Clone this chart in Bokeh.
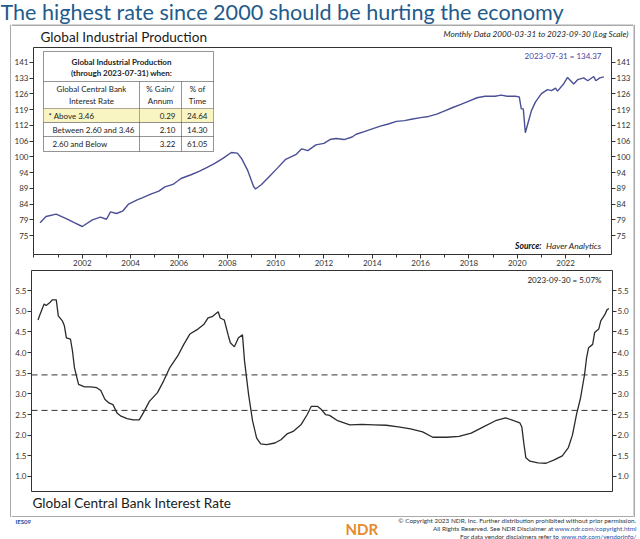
from bokeh.plotting import figure
from bokeh.models import (ColumnDataSource, FixedTicker, LogAxis, LinearAxis, Range1d,
                          Label, BoxAnnotation, Span, NumeralTickFormatter)
from bokeh.layouts import column, row
from bokeh.embed import file_html
from bokeh.resources import INLINE

# ---------------- data ----------------
ip_dates = ["2000-03","2000-06","2000-11","2001-04","2001-08","2001-12","2002-05","2002-09","2002-12",
            "2003-02","2003-05","2003-08","2003-11","2004-03","2004-06","2004-10","2005-02","2005-05",
            "2005-09","2006-01","2006-06","2006-10","2007-02","2007-06","2007-10","2008-02","2008-05",
            "2008-07","2008-10","2009-01","2009-02","2009-05","2009-09","2010-01","2010-05","2010-10",
            "2011-01","2011-04","2011-08","2011-12","2012-03","2012-06","2012-10","2013-02","2013-04",
            "2013-08","2013-12","2014-04","2014-08","2014-12","2015-04","2015-08","2015-12","2016-04",
            "2016-08","2016-12","2017-04","2017-08","2017-12","2018-04","2018-08","2019-01","2019-04",
            "2019-07","2019-11","2020-01","2020-02","2020-03","2020-04","2020-05","2020-07","2020-09",
            "2020-12","2021-03","2021-05","2021-07","2021-08","2021-11","2022-01","2022-04","2022-06",
            "2022-09","2022-11","2023-02","2023-03","2023-05","2023-07"]
ip_values = [78.4,80.2,80.9,79.6,78.4,77.3,79.2,80.0,79.4,
             81.6,81.1,81.8,84.0,85.2,86.0,87.1,88.1,89.5,
             90.3,92.3,93.6,94.8,96.2,97.7,99.5,101.6,101.4,
             99.5,95.3,89.7,88.8,90.3,93.1,96.0,99.1,100.8,
             103.0,102.3,104.5,105.1,106.6,107.0,106.6,107.6,108.7,
             109.8,110.9,112.0,112.9,114.0,114.3,115.0,115.6,116.1,
             117.1,118.5,120.0,121.4,122.9,124.4,125.1,125.1,125.6,
             125.1,125.1,124.8,119.4,119.4,109.3,112.3,118.5,122.4,
             126.3,128.2,127.7,128.9,127.5,130.9,134.1,130.9,133.0,
             133.9,132.5,134.6,132.5,133.9,134.37]

rate_dates = ["2000-03","2000-04","2000-06","2000-07","2000-09","2000-10","2000-12","2001-01","2001-03",
              "2001-04","2001-05","2001-07","2001-08","2001-09","2001-11","2002-02","2002-05","2002-08",
              "2002-10","2002-12","2003-02","2003-04","2003-06","2003-08","2003-11","2004-02","2004-05",
              "2004-07","2004-10","2005-02","2005-05","2005-08","2005-12","2006-03","2006-06","2006-10",
              "2007-01","2007-03","2007-05","2007-08","2007-09","2007-11","2008-01","2008-02","2008-04",
              "2008-06","2008-08","2008-09","2008-11","2009-01","2009-03","2009-05","2009-08","2009-12",
              "2010-03","2010-06","2010-09","2011-01","2011-04","2011-06","2011-09","2011-11","2012-01",
              "2012-03","2012-07","2013-01","2013-07","2014-01","2014-07","2015-01","2015-07","2016-01",
              "2016-06","2017-01","2017-07","2018-01","2018-07","2019-01","2019-06","2019-10","2020-01",
              "2020-02","2020-03","2020-04","2020-06","2020-10","2021-02","2021-06","2021-10","2022-01",
              "2022-03","2022-05","2022-07","2022-09","2022-10","2022-11","2023-01","2023-02","2023-04",
              "2023-05","2023-07","2023-08","2023-09"]
rate_values = [4.79,4.93,5.18,5.14,5.22,5.28,5.28,4.89,4.77,
               4.65,4.36,4.33,4.04,3.63,3.23,3.17,3.17,3.15,
               3.08,2.87,2.78,2.74,2.54,2.46,2.40,2.37,2.37,
               2.54,2.82,3.03,3.31,3.63,3.92,4.20,4.45,4.57,
               4.69,4.84,4.87,4.99,4.84,4.79,4.41,4.24,4.14,
               4.36,4.43,3.80,2.99,2.34,1.93,1.79,1.77,1.81,
               1.89,2.03,2.09,2.26,2.50,2.70,2.70,2.62,2.50,
               2.48,2.35,2.25,2.26,2.25,2.24,2.20,2.15,2.08,
               1.95,1.95,1.97,2.05,2.20,2.35,2.42,2.35,2.30,
               2.20,1.80,1.45,1.37,1.33,1.32,1.40,1.50,1.70,
               2.00,2.50,2.90,3.47,3.88,4.12,4.20,4.49,4.57,
               4.77,4.92,5.03,5.07]

rate_thresholds = [3.46, 2.60]

ip_ticks = [74.73, 79.21, 83.96, 89.0, 94.34, 100, 106, 112.36, 119.1, 126.25, 133.82, 141.85]
ip_tick_labels = ["75", "79", "84", "89", "94", "100", "106", "112", "119", "126", "133", "141"]
rate_ticks = [1.0, 1.5, 2.0, 2.5, 3.0, 3.5, 4.0, 4.5, 5.0, 5.5]
year_ticks = [2002, 2004, 2006, 2008, 2010, 2012, 2014, 2016, 2018, 2020, 2022]
year_minor_ticks = list(range(2000, 2024))

table_bands = ["* Above 3.46", "Between 2.60 and 3.46", "2.60 and Below"]
table_gain = ["0.29", "2.10", "3.22"]
table_time = ["24.64", "14.30", "61.05"]

last_ip_text = "2023-07-31 = 134.37"
last_rate_text = "2023-09-30 = 5.07%"

FONT = "Lato"
DARK = "#333333"
FRAME = "#555555"


def to_year(d):
    y, m = d.split("-")
    return int(y) + int(m) / 12.0


def style_axis(ax, ticks, minor=None):
    ax.ticker = FixedTicker(ticks=ticks, minor_ticks=minor or [])
    ax.axis_line_color = None
    ax.major_tick_in = 0
    ax.major_tick_out = 4
    ax.minor_tick_in = 0
    ax.minor_tick_out = 3
    ax.major_tick_line_color = DARK
    ax.minor_tick_line_color = DARK
    ax.major_label_text_font = FONT
    ax.major_label_text_font_size = "8px"
    ax.major_label_text_color = DARK
    ax.major_label_standoff = 1


def lab(p, x, y, text, size="8px", align="left", color="#222222", style="normal", units="data"):
    p.add_layout(Label(x=x, y=y, x_units=units, y_units=units, text=text,
                       text_font=FONT, text_font_size=size, text_align=align,
                       text_baseline="middle", text_color=color, text_font_style=style))


def cbox(p, l, r, t, b, fill=None, line=DARK, width=1):
    p.add_layout(BoxAnnotation(left=l, right=r, top=t, bottom=b,
                               left_units="canvas", right_units="canvas",
                               top_units="canvas", bottom_units="canvas",
                               fill_color=fill if fill else "white",
                               fill_alpha=1 if fill else 0,
                               line_color=line, line_width=width))


def blank_fig(w, h):
    f = figure(width=w, height=h, x_range=Range1d(0, w), y_range=Range1d(h, 0),
               x_axis_location=None, y_axis_location=None, output_backend="svg",
               toolbar_location=None, min_border=0, frame_align=False)
    f.xgrid.grid_line_color = None
    f.ygrid.grid_line_color = None
    f.outline_line_color = None
    f.background_fill_color = "white"
    f.border_fill_color = "white"
    return f


X_RANGE = (1999.98, 2023.9)
INNER_W = 622          # inner (framed) width, global x 11..632
OX = 11                # global x of inner column

# ---------------- title strip (global y 0..23) ----------------
title_fig = blank_fig(640, 24)
lab(title_fig, 0, 11.5, "The highest rate since 2000 should be hurting the economy",
    size="21.6px", color="#1f5b8c")

# ---------------- sub-title strip (global y 24..45) ----------------
sub_fig = blank_fig(INNER_W, 22)
sub_fig.add_layout(Span(location=0.5, dimension="width", line_color=FRAME, line_width=1))
lab(sub_fig, 40 - OX, 12, "Global Industrial Production", size="13.6px", color="#1a1a1a")
lab(sub_fig, 628 - OX, 9, "Monthly Data 2000-03-31 to 2023-09-30 (Log Scale)", size="8.2px",
    align="right", style="italic")

# ---------------- top panel (global y 46..268) ----------------
TY = 46
top = figure(width=INNER_W, height=223, y_axis_type="log",
             x_range=Range1d(*X_RANGE), y_range=Range1d(69.7, 149.8),
             output_backend="svg", toolbar_location=None, frame_align=False,
             min_border_left=20, min_border_right=21, min_border_top=1, min_border_bottom=15)
top.xgrid.grid_line_color = None
top.ygrid.grid_line_color = None
top.outline_line_color = DARK
top.outline_line_width = 1
top.background_fill_color = "white"
top.border_fill_color = "white"

style_axis(top.yaxis[0], ip_ticks)
top.yaxis[0].major_label_overrides = dict(zip(ip_ticks, ip_tick_labels))
right_ip = LogAxis()
style_axis(right_ip, ip_ticks)
right_ip.major_label_overrides = dict(zip(ip_ticks, ip_tick_labels))
top.add_layout(right_ip, "right")
style_axis(top.xaxis[0], year_ticks, year_minor_ticks)

ip_src = ColumnDataSource(dict(x=[to_year(d) for d in ip_dates], y=ip_values))
top.line("x", "y", source=ip_src, line_color="#4b4f96", line_width=1.4)

lab(top, 601 - OX, 55 - TY, last_ip_text, size="8px", align="right", color="#4a3f9f", units="canvas")
lab(top, 541 - OX, 245 - TY, "Source:", size="8.5px", align="right", style="bold italic",
    color="#111111", units="canvas")
lab(top, 601 - OX, 245 - TY, "Haver Analytics", size="8.5px", align="right", style="italic",
    units="canvas")


# table (global coordinates shifted into the panel canvas)
def tb(l, r, t, b, fill=None):
    cbox(top, l - OX, r - OX, t - TY, b - TY, fill=fill)


def tl(x, y, text, align="left", style="normal"):
    lab(top, x - OX, y - TY, text, size="8px", align=align, style=style, units="canvas")


tb(43, 213, 51, 151, fill="white")
tb(43, 213, 51, 81)
cols = [(43, 139), (139, 181), (181, 213)]
for (l, r) in cols:
    tb(l, r, 81, 108)
rows = [(108, 122), (122, 136), (136, 151)]
for i, (t, b) in enumerate(rows):
    for (l, r) in cols:
        tb(l, r, t, b, fill="#f9f5c2" if i == 0 else None)
tl(121, 61, "Global Industrial Production", align="center", style="bold")
tl(121, 72.5, "(through 2023-07-31) when:", align="center", style="bold")
tl(91, 88.5, "Global Central Bank", align="center")
tl(91, 100, "Interest Rate", align="center")
tl(160, 88.5, "% Gain/", align="center")
tl(160, 100, "Annum", align="center")
tl(197, 88.5, "% of", align="center")
tl(197, 100, "Time", align="center")
for i, (t, b) in enumerate(rows):
    yc = (t + b) / 2
    tl(48 if i == 0 else 52, yc, table_bands[i])
    tl(175, yc, table_gain[i], align="right")
    tl(207, yc, table_time[i], align="right")

# ---------------- bottom panel (global y 269..491) ----------------
BY = 269
bot = figure(width=INNER_W, height=223, x_range=top.x_range, y_range=Range1d(0.635, 5.99),
             x_axis_location=None, output_backend="svg", toolbar_location=None, frame_align=False,
             min_border_left=20, min_border_right=21, min_border_top=1, min_border_bottom=1)
bot.xgrid.grid_line_color = None
bot.ygrid.grid_line_color = None
bot.outline_line_color = DARK
bot.outline_line_width = 1
bot.background_fill_color = "white"
bot.border_fill_color = "white"

style_axis(bot.yaxis[0], rate_ticks)
bot.yaxis[0].formatter = NumeralTickFormatter(format="0.0")
right_rate = LinearAxis()
style_axis(right_rate, rate_ticks)
right_rate.formatter = NumeralTickFormatter(format="0.0")
bot.add_layout(right_rate, "right")

for t in rate_thresholds:
    bot.add_layout(Span(location=t, dimension="width", line_color=DARK,
                        line_dash="6 4", line_width=1))

rate_src = ColumnDataSource(dict(x=[to_year(d) for d in rate_dates], y=rate_values))
bot.line("x", "y", source=rate_src, line_color="#2b2b2b", line_width=1.3)

lab(bot, 601 - OX, 279 - BY, last_rate_text, size="8px", align="right", units="canvas")

# ---------------- caption strip (global y 492..516) ----------------
cap_fig = blank_fig(INNER_W, 25)
lab(cap_fig, 32 - OX, 10, "Global Central Bank Interest Rate", size="13.6px", color="#1a1a1a")
cap_fig.add_layout(Span(location=24.5, dimension="width", line_color=FRAME, line_width=1))

# ---------------- vertical frame strips ----------------
INNER_H = 22 + 223 + 223 + 25
left_strip = blank_fig(11, INNER_H)
left_strip.add_layout(Span(location=10.5, dimension="height", line_color=FRAME, line_width=1))
right_strip = blank_fig(7, INNER_H)
right_strip.add_layout(Span(location=0.5, dimension="height", line_color=FRAME, line_width=1))

# ---------------- footer (global y 517..538) ----------------
foot = blank_fig(640, 22)
lab(foot, 15, 4, "IES09", size="6px", style="bold", color="#2a4b9b")
lab(foot, 345, 11, "NDR", size="15px", style="bold", color="#e58a2e")
lab(foot, 636, 2.5, "\u00a9 Copyright 2023 NDR, Inc. Further distribution prohibited without prior permission.",
    size="6.4px", align="right", color="#333333")
lab(foot, 636, 10.5, "www.ndr.com/copyright.html", size="6.4px", align="right", color="#1f4fa8")
lab(foot, 553, 10.5, "All Rights Reserved. See NDR Disclaimer at", size="6.4px", align="right", color="#333333")
lab(foot, 636, 18.5, "www.ndr.com/vendorinfo/", size="6.4px", align="right", color="#1f4fa8")
lab(foot, 559, 18.5, "For data vendor disclaimers refer to", size="6.4px", align="right", color="#333333")

inner = column(sub_fig, top, bot, cap_fig, spacing=0)
middle = row(left_strip, inner, right_strip, spacing=0)
layout = column(title_fig, middle, foot, spacing=0)
open("out.html", "w").write(file_html(layout, INLINE))
